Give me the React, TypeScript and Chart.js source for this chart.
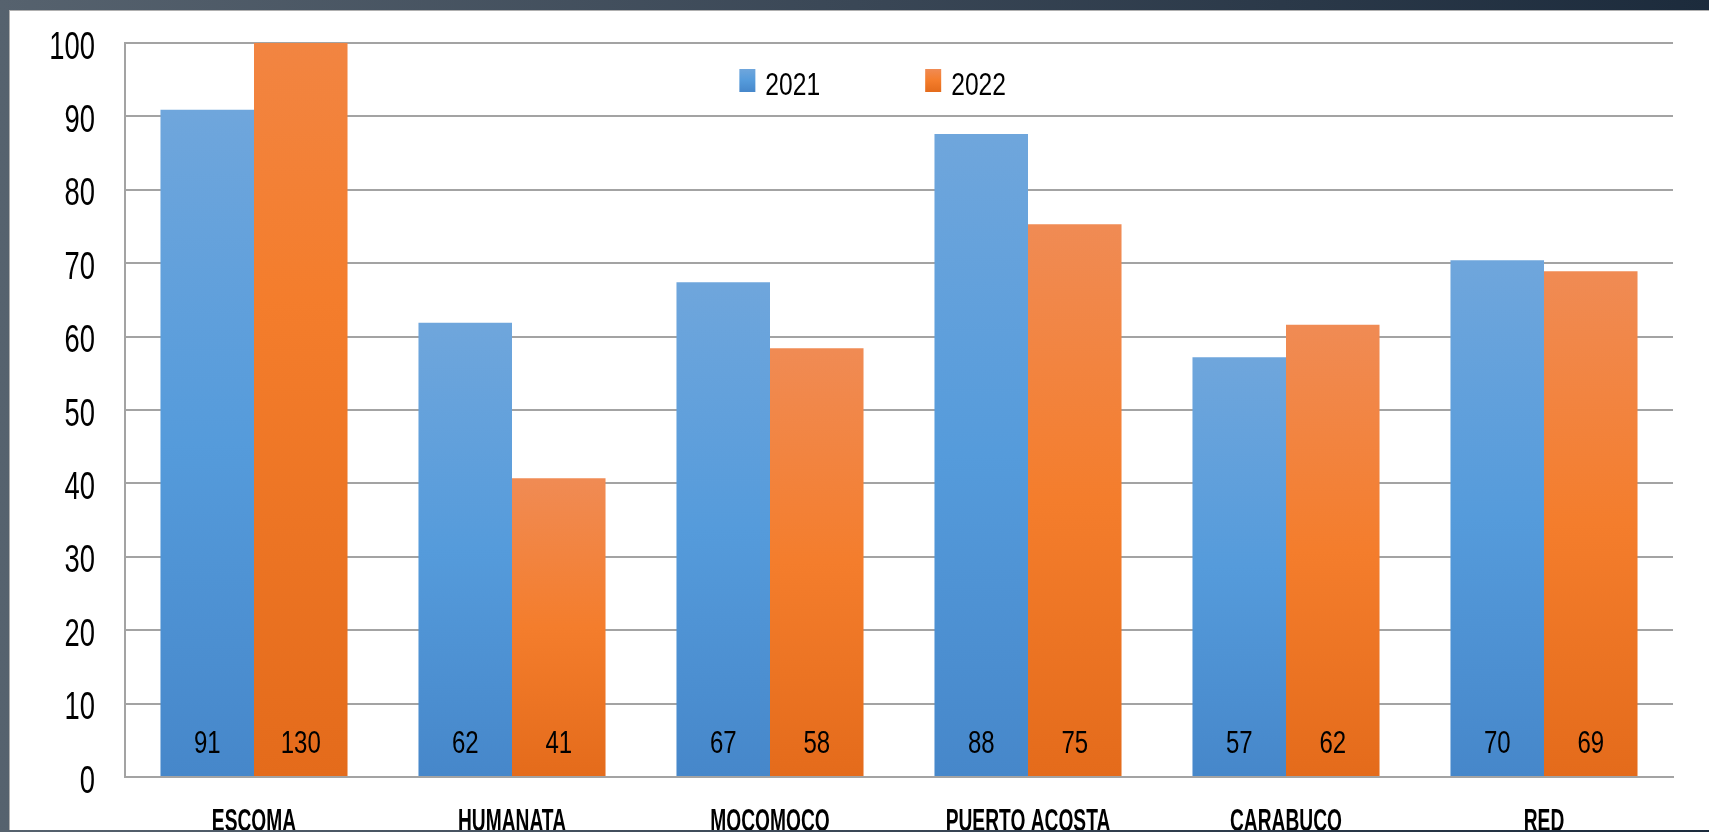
import React, { useEffect, useRef } from "react";
import { Chart, registerables } from "chart.js";

Chart.register(...registerables);

const categories = ["ESCOMA", "HUMANATA", "MOCOMOCO", "PUERTO ACOSTA", "CARABUCO", "RED"];
const seriesNames = ["2021", "2022"];
const values2021 = [90.9, 61.9, 67.4, 87.6, 57.2, 70.4];
const values2022 = [130, 40.7, 58.4, 75.3, 61.6, 68.9];
const yMin = 0;
const yMax = 100;
const yStep = 10;

const blueStops = ["#6fa6dc", "#559bdb", "#4687ca"];
const orangeStops = ["#f08b54", "#f47d2c", "#e46b1b"];

const FONT = "'Liberation Sans', Arial, sans-serif";

function drawNarrowText(
  ctx: CanvasRenderingContext2D,
  text: string,
  x: number,
  y: number,
  font: string,
  sx: number,
  align: CanvasTextAlign
) {
  ctx.save();
  ctx.translate(x, y);
  ctx.scale(sx, 1);
  ctx.font = font;
  ctx.fillStyle = "#000";
  ctx.textAlign = align;
  ctx.textBaseline = "alphabetic";
  ctx.fillText(text, 0, 0);
  ctx.restore();
}

function barGradient(stops: string[]) {
  return (ctx: any) => {
    const chart = ctx.chart;
    const area = chart.chartArea;
    const y = chart.scales && chart.scales.y;
    if (!area || !y || ctx.type !== "data") return stops[1];
    const v = ctx.parsed ? ctx.parsed.y : ctx.raw;
    const top = y.getPixelForValue(v);
    const base = y.getPixelForValue(0);
    if (!isFinite(top) || !isFinite(base) || top === base) return stops[1];
    const g = chart.ctx.createLinearGradient(0, top, 0, base);
    g.addColorStop(0, stops[0]);
    g.addColorStop(0.5, stops[1]);
    g.addColorStop(1, stops[2]);
    return g;
  };
}

const axisTextPlugin = {
  id: "axisText",
  afterDraw(chart: any) {
    const { ctx, chartArea, scales } = chart;
    const ys = scales.y;
    const xs = scales.x;
    // y tick labels
    ys.ticks.forEach((t: any) => {
      const py = ys.getPixelForValue(t.value);
      drawNarrowText(ctx, String(t.value), chartArea.left - 30, py + 15.5, `38px ${FONT}`, 0.72, "right");
    });
    // x category labels
    categories.forEach((c, i) => {
      const px = xs.getPixelForValue(i);
      drawNarrowText(ctx, c, px, chartArea.bottom + 54, `bold 32px ${FONT}`, 0.6, "center");
    });
  },
};

const valueLabelPlugin = {
  id: "valueLabels",
  afterDatasetsDraw(chart: any) {
    const { ctx, chartArea } = chart;
    chart.data.datasets.forEach((ds: any, i: number) => {
      const meta = chart.getDatasetMeta(i);
      meta.data.forEach((el: any, j: number) => {
        drawNarrowText(ctx, String(Math.round(ds.data[j])), el.x, chartArea.bottom - 24, `32px ${FONT}`, 0.75, "center");
      });
    });
  },
};

const legendPlugin = {
  id: "insideLegend",
  afterDraw(chart: any) {
    const { ctx, chartArea } = chart;
    const font = `32px ${FONT}`;
    const sx = 0.77;
    const boxW = 16;
    const boxH = 23;
    const gapText = 10;
    const gapItems = 105;
    const stopsList = [blueStops, orangeStops];
    ctx.save();
    ctx.font = font;
    const items = chart.data.datasets.map((ds: any, i: number) => ({
      label: ds.label,
      stops: stopsList[i],
      w: boxW + gapText + ctx.measureText(ds.label).width * sx,
    }));
    ctx.restore();
    const total = items.reduce((s: number, it: any) => s + it.w, 0) + gapItems * (items.length - 1);
    const cx = chartArea.left + chartArea.width * 0.483;
    const boxTop = chartArea.top + 26;
    const baseline = chartArea.top + 52;
    let x = cx - total / 2;
    items.forEach((it: any) => {
      ctx.save();
      const g = ctx.createLinearGradient(0, boxTop, 0, boxTop + boxH);
      g.addColorStop(0, it.stops[0]);
      g.addColorStop(0.5, it.stops[1]);
      g.addColorStop(1, it.stops[2]);
      ctx.fillStyle = g;
      ctx.fillRect(x, boxTop, boxW, boxH);
      ctx.restore();
      drawNarrowText(ctx, it.label, x + boxW + gapText, baseline, font, sx, "left");
      x += it.w + gapItems;
    });
  },
};

export default function App() {
  const canvasRef = useRef<HTMLCanvasElement | null>(null);

  useEffect(() => {
    if (!canvasRef.current) return;
    const chart = new Chart(canvasRef.current, {
      type: "bar",
      data: {
        labels: categories,
        datasets: [
          {
            label: seriesNames[0],
            data: values2021,
            backgroundColor: barGradient(blueStops),
            borderWidth: 0,
            categoryPercentage: 0.725,
            barPercentage: 1.0,
          },
          {
            label: seriesNames[1],
            data: values2022,
            backgroundColor: barGradient(orangeStops),
            borderWidth: 0,
            categoryPercentage: 0.725,
            barPercentage: 1.0,
          },
        ],
      },
      options: {
        responsive: false,
        maintainAspectRatio: false,
        animation: false,
        layout: { padding: { top: 33, right: 36, left: 0, bottom: 0 } },
        plugins: {
          legend: { display: false },
          tooltip: { enabled: false },
          title: { display: false },
        },
        scales: {
          x: {
            grid: { display: false, drawTicks: false },
            border: { display: true, color: "#a3a3a3", width: 2 },
            ticks: { display: false },
            afterFit: (scale: any) => {
              scale.height = 83;
            },
          },
          y: {
            min: yMin,
            max: yMax,
            ticks: { stepSize: yStep, display: false },
            grid: { color: "#a3a3a3", lineWidth: 2, drawTicks: false },
            border: { display: true, color: "#a3a3a3", width: 2 },
            afterFit: (scale: any) => {
              scale.width = 116;
            },
          },
        },
      },
      plugins: [valueLabelPlugin, legendPlugin, axisTextPlugin],
    });
    return () => chart.destroy();
  }, []);

  return (
    <div
      style={{
        position: "fixed",
        left: 0,
        top: 0,
        width: "100vw",
        height: "100vh",
        overflow: "hidden",
        background: "linear-gradient(90deg, #56626e 0%, #3a4756 50%, #1c2b3c 100%)",
      }}
    >
      <div
        style={{
          position: "absolute",
          left: 9,
          top: 10,
          width: 1700,
          height: 820,
          background: "#fff",
          borderTop: "1px solid #b0b0b0",
          borderLeft: "1px solid #b0b0b0",
          boxSizing: "border-box",
          overflow: "hidden",
        }}
      >
        <canvas
          ref={canvasRef}
          width={1700}
          height={850}
          style={{ position: "absolute", left: -1, top: -1, width: 1700, height: 850 }}
        />
      </div>
    </div>
  );
}
